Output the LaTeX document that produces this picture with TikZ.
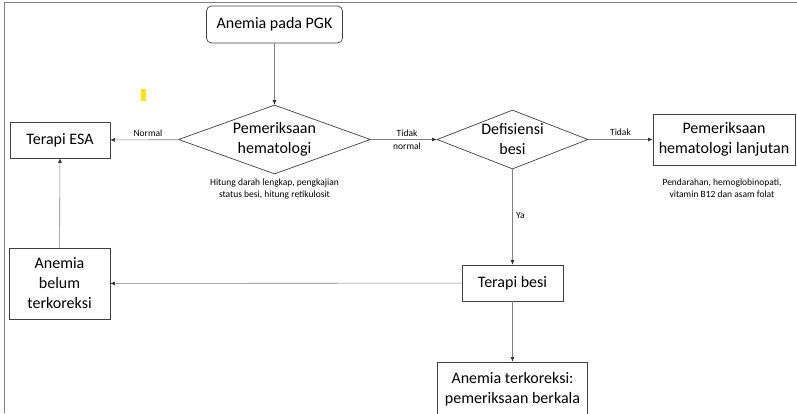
\documentclass[tikz,border=0pt]{standalone}
\usepackage{fontspec}
\setmainfont{Carlito}
\usetikzlibrary{shapes.geometric,arrows.meta,positioning}
\newcommand{\boxfont}{\fontsize{16}{20}\selectfont}
\newcommand{\notefont}{\fontsize{9.5}{12.5}\selectfont}
\definecolor{markyellow}{RGB}{255,230,0}

\begin{document}
\begin{tikzpicture}[
        x=1pt, y=-1pt,
        box/.style={rectangle, draw=black!75, line width=0.7pt, inner sep=0pt, align=center, font=\boxfont},
        decision/.style={diamond, draw=black!75, line width=0.7pt, inner sep=0pt, align=center, font=\boxfont},
        note/.style={font=\notefont, align=center, inner sep=0pt},
        arrow/.style={-{Latex[length=4.5pt,width=4pt,color=black!80]}, draw=black!50, line width=0.6pt}
    ]
        \useasboundingbox (0,0) rectangle (797,413);
        % Frame and marker
        \draw[black!50, line width=0.8pt] (4,413) -- (4,2) -- (797,2);
        \fill[markyellow] (141,89) rectangle (146,101);

        % Nodes
        \node[box, rounded corners=5pt, minimum width=136pt, minimum height=37pt] (pgk) at (274.5,24.5) {Anemia pada PGK};
        \node[decision, aspect=2.78, minimum width=192pt, minimum height=69pt] (hemat) at (274.5,139.5) {Pemeriksaan\\hematologi};
        \node[box, minimum width=100pt, minimum height=36pt] (esa) at (60,140) {Terapi ESA};
        \node[decision, aspect=2.56, minimum width=151pt, minimum height=59pt] (defis) at (512.5,139.5) {Defisiensi\\besi};
        \node[box, minimum width=142pt, minimum height=51pt] (lanjut) at (724,139.5) {Pemeriksaan\\hematologi lanjutan};
        \node[box, minimum width=101pt, minimum height=71pt] (belum) at (59.5,283.5) {Anemia\\belum\\terkoreksi};
        \node[box, minimum width=101pt, minimum height=36pt] (besi) at (512.5,283) {Terapi besi};
        \node[box, minimum width=150pt, minimum height=54pt] (koreksi) at (512.5,389) {Anemia terkoreksi:\\pemeriksaan berkala};

        % Notes
        \node[note, below=4pt of hemat] (hematnote) {Hitung darah lengkap, pengkajian\\status besi, hitung retikulosit};
        \node[note, below=13pt of lanjut, xshift=-2pt] (lanjutnote) {Pendarahan, hemoglobinopati,\\vitamin B12 dan asam folat};

        % Arrows
        \draw[arrow] (pgk) -- (hemat);
        \draw[arrow] (hemat) -- node[above, font=\notefont, pos=0.45] {Normal} (esa);
        \draw[arrow] (hemat) -- node[font=\notefont, align=center, pos=0.55] {Tidak\\normal} (defis);
        \draw[arrow] (defis) -- node[above, font=\notefont] {Tidak} (lanjut);
        \draw[arrow] (defis) -- node[right, font=\notefont, pos=0.48] {Ya} (besi);
        \draw[arrow] (besi) -- (belum);
        \draw[arrow] (belum) -- (esa);
        \draw[arrow] (besi) -- (koreksi);
    \end{tikzpicture}
\end{document}
